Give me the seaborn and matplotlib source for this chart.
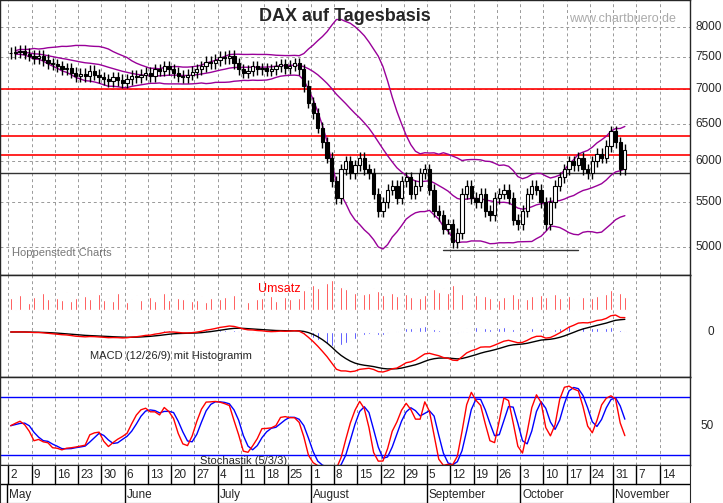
import numpy as np
import pandas as pd
import matplotlib
matplotlib.use('Agg')
import matplotlib.pyplot as plt
import seaborn as sns

sns.set_style('white')
plt.rcParams['font.family'] = ['Liberation Sans', 'DejaVu Sans']

# daily closes (week by week, starting Mon May 2)
closes = [7560, 7580, 7600, 7550, 7520, 7480, 7520, 7450, 7400, 7380,
          7350, 7300, 7320, 7250, 7200, 7230, 7200, 7280, 7220, 7180,
          7150, 7120, 7180, 7140, 7100, 7150, 7200, 7180, 7220, 7250,
          7200, 7300, 7280, 7350, 7300, 7250, 7200, 7180, 7220, 7260,
          7300, 7350, 7420, 7400, 7450, 7500, 7480, 7520, 7400, 7300,
          7250, 7280, 7350, 7300, 7320, 7280, 7300, 7350, 7380, 7320,
          7360, 7400, 7300, 7050, 6800, 6650, 6450, 6250, 6050, 5750,
          5550, 5900, 6000, 5850, 5950, 6050, 5900, 5850, 5600, 5400,
          5500, 5650, 5700, 5550, 5750, 5800, 5600, 5700, 5850, 5900,
          5650, 5400, 5350, 5200, 5250, 5050, 5150, 5600, 5700, 5550,
          5500, 5600, 5400, 5350, 5550, 5600, 5650, 5550, 5300, 5250,
          5400, 5600, 5700, 5650, 5500, 5250, 5500, 5700, 5800, 5900,
          6000, 5950, 6050, 5900, 5850, 6000, 6100, 6050, 6200, 6400,
          6250, 5900, 6150]
volume = [14, 10, 18, 12, 9, 16, 11, 20, 13, 10, 15, 12, 22, 11, 14,
          10, 17, 13, 9, 19, 12, 15, 11, 20, 14, 10, 13, 18, 12, 9,
          16, 11, 14, 21, 12, 10, 15, 13, 19, 11, 12, 17, 10, 14, 22,
          13, 16, 11, 18, 12, 14, 10, 20, 13, 15, 12, 17, 11, 14, 16,
          13, 19, 15, 24, 28, 30, 26, 34, 32, 36, 30, 28, 25, 22, 20,
          24, 19, 21, 26, 23, 18, 22, 20, 17, 15, 19, 16, 21, 14, 18,
          17, 25, 22, 27, 20, 30, 24, 19, 16, 14, 18, 13, 17, 15, 20,
          12, 16, 14, 19, 15, 21, 13, 17, 14, 18, 16, 14, 19, 15, 22,
          17, 13, 18, 16, 20, 14, 17, 22, 19, 24, 18, 21, 16]
week_days = [25, 2, 9, 16, 23, 30, 6, 13, 20, 27, 4, 11, 18, 25, 1, 8, 15, 22, 29,
             5, 12, 19, 26, 3, 10, 17, 24, 31, 7, 14]
months = ['May', 'June', 'July', 'August', 'September', 'October', 'November']
month_week = [1, 6, 10, 14, 19, 23, 27]
levels = [7000, 6330, 6080]
support = 5850

c = pd.Series(closes, dtype=float)
o = c.shift(1).fillna(c.iloc[0])
hi = np.maximum(o, c) * 1.012
lo = np.minimum(o, c) * 0.988
x = np.arange(len(c), dtype=float)
mid = c.rolling(20, min_periods=1).mean()
sd = c.rolling(20, min_periods=2).std().fillna(0)
ema12 = c.ewm(span=12).mean()
ema26 = c.ewm(span=26).mean()
macd = ema12 - ema26
signal = macd.ewm(span=9).mean()
ll = pd.Series(lo).rolling(5, min_periods=1).min()
hh = pd.Series(hi).rolling(5, min_periods=1).max()
k = ((c - ll) / (hh - ll) * 100).rolling(3, min_periods=1).mean()
d = k.rolling(3, min_periods=1).mean()

W, H = 723, 503
fig = plt.figure(figsize=(W / 100, H / 100), dpi=100)
R = 690 / W
def ax_at(top, bot):
    return fig.add_axes([0, 1 - bot / H, R, (bot - top) / H])

ax1 = ax_at(0, 275)
ax2 = ax_at(275, 377)
ax3 = ax_at(377, 465)
ax4 = ax_at(465, 503)
xl = (-2.3, 146)
mondays = [(i - 1) * 5 for i in range(len(week_days))]

for ax in (ax1, ax2, ax3):
    ax.set_xlim(*xl)
    ax.set_xticks([])
    for m in mondays:
        ax.axvline(m - 0.5, color='#999999', ls=(0, (3, 3)), lw=0.7, zorder=0)
    for s in ax.spines.values():
        s.set_linewidth(1)

# price panel
ax1.set_yscale('log')
ax1.set_ylim(4710, 8466)
pt = [5000, 5500, 6000, 6500, 7000, 7500, 8000]
for p in pt:
    ax1.axhline(p, color='#999999', ls=(0, (3, 3)), lw=0.7, zorder=0)
for p in levels:
    ax1.axhline(p, color='red', lw=1.2, zorder=1)
ax1.axhline(support, color='#333333', lw=1, zorder=1)
ax1.plot([93, 122], [4970, 4970], color='#333333', lw=1)
for band in (mid, mid + 2 * sd, mid - 2 * sd):
    sns.lineplot(x=x[1:], y=band.values[1:], ax=ax1, color='#990099', lw=1)
for i in range(len(c)):
    ax1.vlines(x[i], lo[i], hi[i], color='black', lw=1, zorder=3)
    up = c[i] >= o[i]
    b0, b1 = min(o[i], c[i]), max(o[i], c[i])
    if b1 - b0 < 8:
        b1 = b0 + 8
    ax1.bar(x[i], b1 - b0, bottom=b0, width=0.7,
            color='white' if up else 'black', edgecolor='black', lw=0.8, zorder=4)
ax1.set_yticks([])
ax1.yaxis.set_minor_locator(matplotlib.ticker.NullLocator())
for p in pt:
    ax1.text(1.008, p, str(p), transform=ax1.get_yaxis_transform(),
             va='center', fontsize=8.5)
ax1.text(0.5, 0.94, 'DAX auf Tagesbasis', transform=ax1.transAxes,
         ha='center', va='center', fontsize=13, fontweight='bold')
ax1.text(0.98, 0.93, 'www.chartbuero.de', transform=ax1.transAxes,
         ha='right', va='center', fontsize=9, color='#aaaaaa')
ax1.text(0.017, 0.08, 'Hoppenstedt Charts', transform=ax1.transAxes,
         va='center', fontsize=8, color='#777777')

# volume + MACD panel
PH = 102
axv = ax2.twinx()
axv.set_xlim(*xl)
axv.bar(x, volume, width=0.35, color='red')
vspan = max(volume) * PH / 30
vtop = vspan * 35 / PH
axv.set_ylim(vtop - vspan, vtop)
axv.set_yticks([])
ax2.text(258 / 690, 1 - 14 / PH, 'Umsatz', transform=ax2.transAxes, color='red',
         fontsize=9, va='center')
mspan = -macd.min() * PH / 40
mtop = mspan * 57 / PH
hist = macd - signal
hscale = (15 / PH * mspan) / hist.abs().max()
ax2.bar(x, hist.values * hscale, width=0.35, color='blue')
sns.lineplot(x=x, y=signal.values, ax=ax2, color='black', lw=1)
sns.lineplot(x=x, y=macd.values, ax=ax2, color='red', lw=1)
ax2.set_ylim(mtop - mspan, mtop)
ax2.set_yticks([])
ax2.text(1.025, 0, '0', transform=ax2.get_yaxis_transform(), va='center', fontsize=8.5)
ax2.text(90 / 690, 1 - 81 / PH, 'MACD (12/26/9) mit Histogramm', transform=ax2.transAxes,
         fontsize=8, va='center')

# stochastic panel
ax3.set_ylim(9.4, 100.3)
ax3.axhline(80, color='blue', lw=1)
ax3.axhline(20, color='blue', lw=1)
sns.lineplot(x=x, y=d.values, ax=ax3, color='blue', lw=1)
sns.lineplot(x=x, y=k.values, ax=ax3, color='red', lw=1)
ax3.set_yticks([])
ax3.text(1.015, 50, '50', transform=ax3.get_yaxis_transform(), va='center', fontsize=8.5)
ax3.text(200 / 690, 1 - 84 / 88, 'Stochastik (5/3/3)', transform=ax3.transAxes,
         fontsize=8, va='center', zorder=5)

# date axis
ax4.set_xlim(*xl)
ax4.set_ylim(0, 1)
ax4.set_xticks([])
ax4.set_yticks([])
ax4.axhline(0.5, color='black', lw=1)
for m, dd in zip(mondays, week_days):
    ax4.plot([m - 0.5, m - 0.5], [0.5, 1], color='black', lw=1)
    ax4.text(m - 0.1, 0.75, str(dd), va='center', fontsize=8.5, clip_on=True)
for mw, name in zip(month_week, months):
    xm = mondays[mw] - 0.5
    if name == 'May':
        xm = mondays[1] - 0.8
    ax4.plot([xm, xm], [0, 0.5], color='black', lw=1)
    ax4.text(xm + 0.4, 0.2, name, va='center', fontsize=8.5)

fig.savefig('out.png', dpi=100)
